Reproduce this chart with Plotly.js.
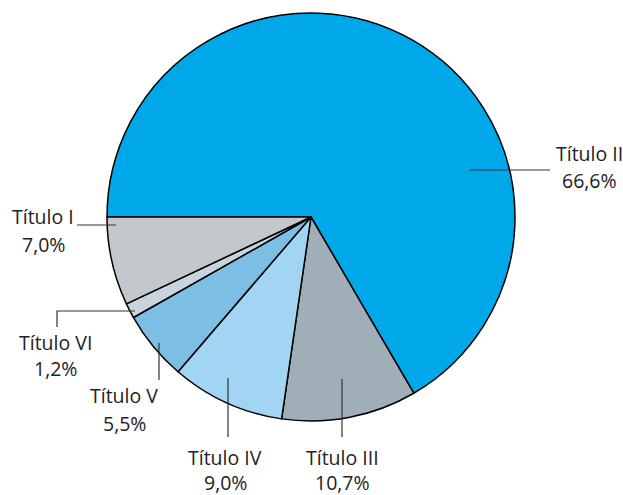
<!DOCTYPE html>
<html>
<head>
<meta charset="utf-8">
<script src="https://cdn.plot.ly/plotly-3.0.1.min.js"></script>
<style>html,body{margin:0;padding:0;background:#fff;}#chart{width:623px;height:495px;}</style>
</head>
<body>
<div id="chart"></div>
<script>
// Data
const categories = ["Título II", "Título III", "Título IV", "Título V", "Título VI", "Título I"];
const values = [66.6, 10.7, 9.0, 5.5, 1.2, 7.0];
const colors = ["#00A8EA", "#A0AEB8", "#A2D5F3", "#7DBEE4", "#C8D5DE", "#C3C8CC"];

const W = 623, H = 495;
const px = x => x / W;
const py = y => 1 - y / H;

// label placement (pixel positions): text center x, first-line center y, second-line center y, leader line path
const labelPos = [
  {x: 589, y1: 153, y2: 180, path: [[470,170],[550,170]]},
  {x: 342, y1: 457, y2: 482, path: [[342,379],[342,437]]},
  {x: 225, y1: 457, y2: 482, path: [[228,378],[228,437]]},
  {x: 124, y1: 395, y2: 423, path: [[159,343],[159,380]]},
  {x: 55,  y1: 342, y2: 368, path: [[135,311],[57,311],[57,327]]},
  {x: 43,  y1: 217, y2: 244, path: [[116,225],[77,225]]}
];

const fmt = v => v.toFixed(1).replace('.', ',') + '%';
const font = {size: 19.5, color: '#222', family: 'Open Sans, sans-serif'};

const annotations = [];
const shapes = [];
categories.forEach((c, i) => {
  const p = labelPos[i];
  annotations.push({xref:'paper', yref:'paper', x: px(p.x), y: py(p.y1), text: c,
    showarrow:false, xanchor:'center', yanchor:'middle', font: font});
  annotations.push({xref:'paper', yref:'paper', x: px(p.x), y: py(p.y2), text: fmt(values[i]),
    showarrow:false, xanchor:'center', yanchor:'middle', font: font});
  const d = p.path.map((pt, k) => (k === 0 ? 'M ' : 'L ') + px(pt[0]) + ' ' + py(pt[1])).join(' ');
  shapes.push({type:'path', xref:'paper', yref:'paper', path: d, line:{color:'#333', width:1.2}});
});

const trace = {
  type: 'pie',
  labels: categories,
  values: values,
  sort: false,
  direction: 'clockwise',
  rotation: 270,
  textinfo: 'none',
  hoverinfo: 'label+percent',
  marker: {colors: colors, line: {color: '#000', width: 1.5}},
  domain: {x: [107/W, 515/W], y: [1 - 421/H, 1 - 13/H]},
  showlegend: false
};

const layout = {
  width: W, height: H,
  margin: {l:0, r:0, t:0, b:0},
  paper_bgcolor: '#fff',
  showlegend: false,
  annotations: annotations,
  shapes: shapes
};

Plotly.newPlot('chart', [trace], layout, {displayModeBar:false, staticPlot:true});
</script>
</body>
</html>
